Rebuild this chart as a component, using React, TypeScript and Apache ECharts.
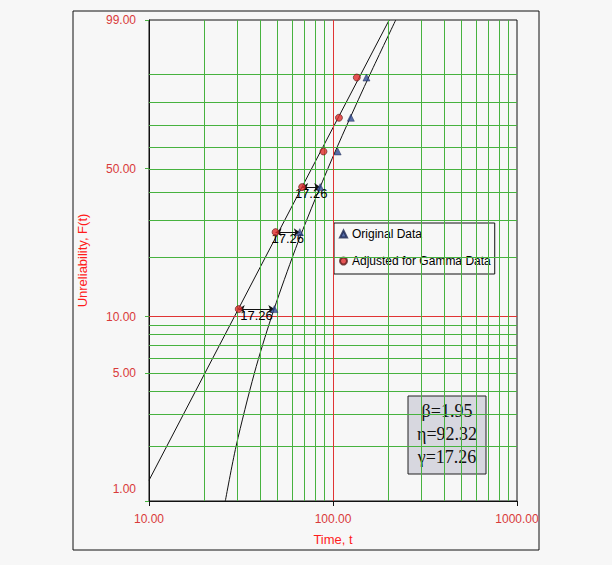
import { useEffect, useRef } from "react";
import * as echarts from "echarts";

// Weibull probability paper: F (%) -> ln(-ln(1-F))
const W = (f: number) => Math.log(-Math.log(1 - f / 100));
const fromW = (w: number) => 100 * (1 - Math.exp(-Math.exp(w)));

// data
const ORIGINAL_T = [48.0, 66.0, 85.2, 106.0, 125.0, 152.0];
const ADJUSTED_T = [30.74, 48.74, 67.94, 88.74, 107.74, 134.74];
const RANK_F = [10.94, 26.56, 42.19, 57.81, 73.44, 89.06];
const ARROW_POINTS = [0, 1, 2];
const SHIFT_LABEL = "17.26";

// fitted lines (straight = t - gamma, curved = original t)
const FIT_T = [10, 202.0];
const FIT_F = [1.3, 99];
const CURVE_T = [25.99, 29.74, 37.4, 46.37, 60.04, 71.67, 93.76, 118.82, 158.85, 219.28];
const CURVE_F = [1, 2, 5, 10, 20, 30, 50, 70, 90, 99];

// gridlines and labels
const Y_LABEL_F = [1, 5, 10, 50, 99];
const Y_GRID_F = [2, 3, 4, 5, 6, 7, 8, 9, 20, 30, 40, 50, 60, 70, 80, 90];
const Y_RED_F = [10];
const X_GRID_T = [20, 30, 40, 50, 60, 70, 80, 90, 200, 300, 400, 500, 600, 700, 800, 900];
const X_RED_T = [100];

const PARAM_LINES = ["β=1.95", "η=92.32", "γ=17.26"];

const BG = "#f7f7f7";
const GREEN = "#47b23f";
const RED_LINE = "#e03434";
const LABEL_RED = "#d93a3a";
const TITLE_RED = "#ff1c1c";
const SANS = "Arial, 'Liberation Sans', sans-serif";
const SERIF = "'Times New Roman', 'Liberation Serif', serif";

export default function App() {
  const ref = useRef<HTMLDivElement>(null);

  useEffect(() => {
    document.body.style.margin = "0";
    const chart = echarts.init(ref.current!, null, { renderer: "svg" });
    const yMin = W(1);
    const yMax = W(99);

    const gridLines = [
      ...Y_GRID_F.map((f) => ({ yAxis: W(f), lineStyle: { color: GREEN } })),
      ...Y_RED_F.map((f) => ({ yAxis: W(f), lineStyle: { color: RED_LINE } })),
      ...X_GRID_T.map((t) => ({ xAxis: t, lineStyle: { color: GREEN } })),
      ...X_RED_T.map((t) => ({ xAxis: t, lineStyle: { color: RED_LINE } })),
    ];

    const option: echarts.EChartsOption = {
      animation: false,
      backgroundColor: BG,
      grid: {
        left: 149,
        top: 20,
        width: 368,
        height: 481,
        show: true,
        backgroundColor: BG,
        borderColor: "#111",
        borderWidth: 1,
      },
      xAxis: {
        type: "log",
        logBase: 10,
        min: 10,
        max: 1000,
        name: "Time, t",
        nameLocation: "middle",
        nameGap: 32,
        nameTextStyle: { color: TITLE_RED, fontSize: 13, fontFamily: SANS },
        axisLine: { show: true, onZero: false, lineStyle: { color: "#111" } },
        axisTick: { show: true, length: 5, lineStyle: { color: "#111" } },
        axisLabel: {
          color: LABEL_RED,
          fontSize: 12,
          fontFamily: SANS,
          margin: 12,
          formatter: (v: number) => Number(v).toFixed(2),
        },
        splitLine: { show: false },
        minorTick: { show: false },
      },
      yAxis: {
        type: "value",
        min: yMin,
        max: yMax,
        name: "Unreliability, F(t)",
        nameLocation: "middle",
        nameGap: 60,
        nameRotate: 90,
        nameTextStyle: { color: TITLE_RED, fontSize: 13, fontFamily: SANS },
        axisLine: { show: true, onZero: false, lineStyle: { color: "#111" } },
        axisTick: {
          show: true,
          length: 4,
          customValues: Y_LABEL_F.map(W),
          lineStyle: { color: GREEN },
        } as any,
        axisLabel: {
          color: LABEL_RED,
          fontSize: 12,
          fontFamily: SANS,
          margin: 13,
          showMinLabel: true,
          showMaxLabel: true,
          customValues: Y_LABEL_F.map(W),
          formatter: (v: number) => {
            const s = fromW(v).toFixed(2);
            return Math.abs(v - yMin) < 1e-6 ? `{lo|${s}}` : s;
          },
          rich: {
            lo: { padding: [0, 0, 24, 0], color: LABEL_RED, fontSize: 12, fontFamily: SANS },
          },
        } as any,
        splitLine: { show: false },
      },
      legend: {
        data: ["Original Data", "Adjusted for Gamma Data"],
        orient: "vertical",
        left: 334,
        top: 223,
        itemWidth: 7,
        itemHeight: 7,
        itemGap: 13,
        itemTextGap: 4,
        padding: [4, 4, 6, 5],
        backgroundColor: BG,
        borderColor: "#111",
        borderWidth: 1,
        borderRadius: 0,
        textStyle: { color: "#000", fontSize: 12, fontFamily: SANS, lineHeight: 14 },
        selectedMode: false,
      },
      graphic: [
        {
          type: "rect",
          shape: { x: 73, y: 11, width: 466, height: 539 },
          style: { fill: "none", stroke: "#111", lineWidth: 1 },
          silent: true,
          z: 0,
        },
        {
          type: "group",
          x: 408,
          y: 396,
          z: 100,
          children: [
            {
              type: "rect",
              shape: { x: 0, y: 0, width: 78, height: 78 },
              style: { fill: "#d7d7df", stroke: "#222", lineWidth: 1 },
            },
            ...PARAM_LINES.map((s, i) => ({
              type: "text",
              x: 39,
              y: 15 + i * 23,
              style: {
                text: s,
                fill: "#111",
                font: `18px ${SERIF}`,
                align: "center",
                verticalAlign: "middle",
                textAlign: "center",
                textVerticalAlign: "middle",
              },
            })),
          ],
        },
      ] as any,
      series: [
        {
          name: "grid",
          type: "line",
          data: [],
          z: 1,
          silent: true,
          markLine: {
            silent: true,
            symbol: ["none", "none"],
            label: { show: false },
            lineStyle: { type: "solid", width: 1 },
            emphasis: { disabled: true },
            data: gridLines as any,
          },
        },
        {
          name: "fit",
          type: "line",
          z: 3,
          silent: true,
          showSymbol: false,
          symbol: "none",
          lineStyle: { color: "#111", width: 1 },
          data: FIT_T.map((t, i) => [t, W(FIT_F[i])]),
        },
        {
          name: "curve",
          type: "line",
          z: 3,
          silent: true,
          showSymbol: false,
          symbol: "none",
          smooth: 0.3,
          lineStyle: { color: "#111", width: 1 },
          data: CURVE_T.map((t, i) => [t, W(CURVE_F[i])]),
        },
        {
          name: "shift",
          type: "line",
          data: [],
          z: 4,
          silent: true,
          markLine: {
            silent: true,
            symbol: ["arrow", "arrow"],
            symbolSize: 6,
            lineStyle: { type: "solid", width: 1, color: "#111" },
            label: {
              show: true,
              position: "insideMiddleBottom",
              formatter: SHIFT_LABEL,
              color: "#000",
              fontSize: 13,
              fontFamily: SANS,
              distance: 0,
            },
            emphasis: { disabled: true },
            data: ARROW_POINTS.map((i) => [
              { coord: [ADJUSTED_T[i], W(RANK_F[i])] },
              { coord: [ORIGINAL_T[i], W(RANK_F[i])] },
            ]) as any,
          },
        },
        {
          name: "Original Data",
          type: "scatter",
          z: 5,
          symbol: "triangle",
          symbolSize: 7,
          itemStyle: { color: "#2f4a94", borderColor: "#1a2550", borderWidth: 0.6 },
          data: ORIGINAL_T.map((t, i) => [t, W(RANK_F[i])]),
        },
        {
          name: "Adjusted for Gamma Data",
          type: "scatter",
          z: 5,
          symbol: "circle",
          symbolSize: 7,
          itemStyle: { color: "#e02a2a", borderColor: "#5a1a1a", borderWidth: 0.8 },
          data: ADJUSTED_T.map((t, i) => [t, W(RANK_F[i])]),
        },
      ],
    };

    chart.setOption(option);
    return () => chart.dispose();
  }, []);

  return <div ref={ref} style={{ width: 612, height: 565, background: BG }} />;
}
